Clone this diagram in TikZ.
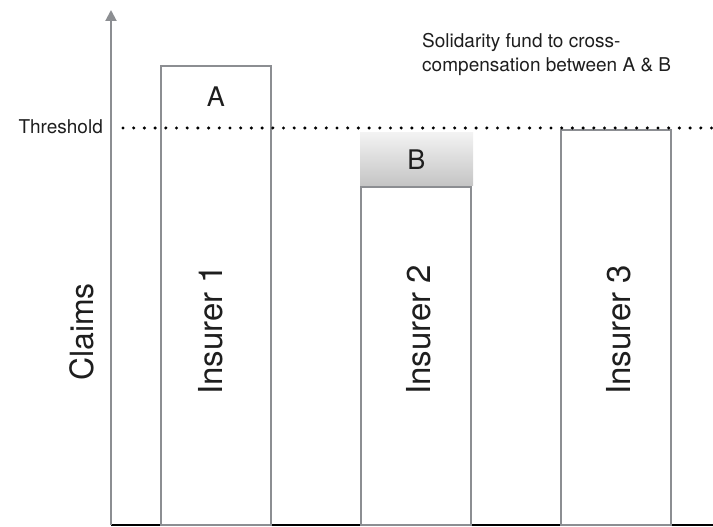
\documentclass[tikz,border=0pt]{standalone}
\usepackage{fontspec}
\setmainfont{TeX Gyre Heros}
\usetikzlibrary{arrows.meta}
\definecolor{bargray}{RGB}{140,142,146}
\definecolor{txtgray}{RGB}{30,30,30}
\begin{document}
\begin{tikzpicture}[x=1pt,y=1pt,>={Triangle[length=11pt,width=11pt]},
    bar/.style={draw=bargray,line width=1.8pt,minimum width=110pt,inner sep=0pt,outer sep=0pt,anchor=south},
    barlabel/.style={rotate=90,anchor=base,text=txtgray,font=\fontsize{33}{36}\selectfont},
    letter/.style={text=txtgray,font=\fontsize{27}{30}\selectfont},
    note/.style={text=txtgray,font=\fontsize{19}{24}\selectfont}]
    \useasboundingbox (0,0) rectangle (713,527);
    \coordinate (origin) at (111,2);
    \coordinate (ytop) at (111,517);
    \coordinate (xend) at (713,2);
    \draw[black,line width=2pt] (origin) -- (xend);
    \node[bar,minimum height=459pt] (ins1) at (216,2) {};
    \node[bar,minimum height=338pt] (ins2) at (416,2) {};
    \node[bar,minimum height=395pt] (ins3) at (616,2) {};
    \node[minimum width=113pt,minimum height=53pt,inner sep=0pt,top color=black!5,bottom color=black!23,letter] (B) at (416.5,367.5) {B};
    \draw[bargray,line width=2pt,->] (origin) -- (ytop);
    \coordinate (thrstart) at (123,399);
    \coordinate (thrend) at (713,399);
    \draw[line width=3.4pt,line cap=round,dash pattern=on 0pt off 10.7pt] (thrstart) -- (thrend);
    \node[letter] (A) at (216,430) {A};
    \node[barlabel] (lab1) at (222,197) {Insurer 1};
    \node[barlabel] (lab2) at (430,197) {Insurer 2};
    \node[barlabel] (lab3) at (630,197) {Insurer 3};
    \node[rotate=90,anchor=base,text=txtgray,font=\fontsize{32}{36}\selectfont] (claims) at (93,195) {Claims};
    \node[note,anchor=base east,inner sep=0pt] (thr) at (103,393) {Threshold};
    \node[note,anchor=north west,inner sep=0pt,align=left] (fund) at (422,494) {Solidarity fund to cross-\\compensation between A \& B};
\end{tikzpicture}
\end{document}
